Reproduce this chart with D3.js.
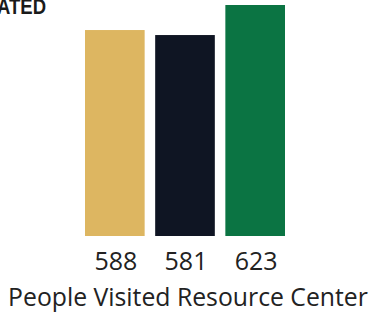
<!DOCTYPE html>
<html><head><meta charset="utf-8">
<script src="https://cdn.jsdelivr.net/npm/d3@7"></script>
<style>html,body{margin:0;padding:0;background:#fff;overflow:hidden}</style>
</head><body>
<svg id="c" width="373" height="318"></svg>
<script>
const categories = ["A", "B", "C"];
const values = [588, 581, 623];
const colors = ["#DDB661", "#0F1523", "#0B7443"];
const title = "ATED";
const axisTitle = "People Visited Resource Center";

const svg = d3.select("#c");
const x = d3.scaleBand().domain(categories).range([85, 285]).paddingInner(0.15).paddingOuter(0);
const y = d3.scaleLinear().domain([300, 630]).range([236, 0]);

svg.append("text").attr("x", -3).attr("y", 14)
  .attr("textLength", 49).attr("lengthAdjust", "spacingAndGlyphs")
  .attr("font-family", "'Liberation Sans', sans-serif")
  .attr("font-weight", "bold").attr("font-size", 22).attr("fill", "#1a1a1a").text(title);

svg.selectAll("rect.bar").data(values).join("rect").attr("class", "bar")
  .attr("x", (d, i) => x(categories[i])).attr("width", x.bandwidth())
  .attr("y", d => y(d)).attr("height", d => y(300) - y(d))
  .attr("fill", (d, i) => colors[i]);

svg.selectAll("text.val").data(values).join("text").attr("class", "val")
  .attr("x", (d, i) => x(categories[i]) + x.bandwidth() / 2 + 1).attr("y", 270)
  .attr("text-anchor", "middle").attr("font-family", "'Open Sans', sans-serif")
  .attr("font-size", 25).attr("fill", "#222").text(d => d);

const t = svg.append("text").attr("x", 188).attr("y", 306).attr("text-anchor", "middle")
  .attr("font-family", "'Open Sans', sans-serif").attr("font-size", 22).attr("fill", "#222").text(axisTitle);
const w = t.node().getComputedTextLength();
t.attr("font-size", 22 * 360 / w);
</script>
</body></html>
